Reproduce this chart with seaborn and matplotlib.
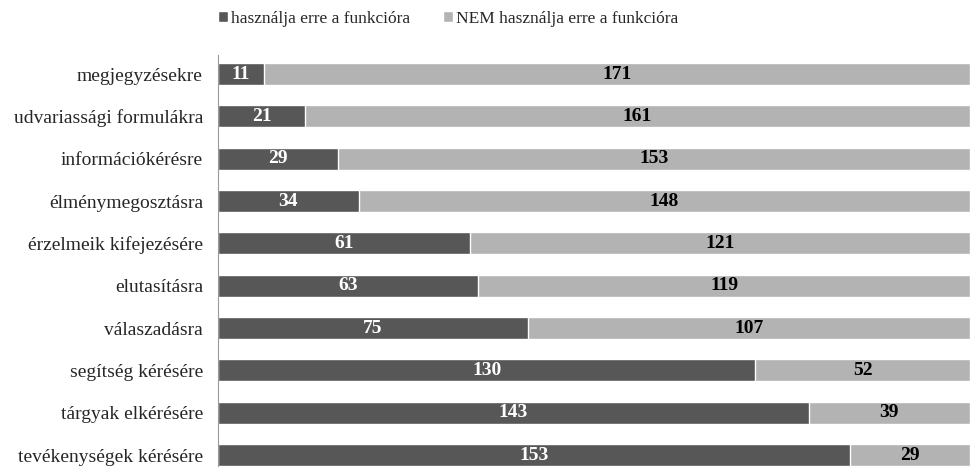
import seaborn as sns
import pandas as pd
import matplotlib.pyplot as plt

categories = ['megjegyzésekre', 'udvariassági formulákra', 'információkérésre',
              'élménymegosztásra', 'érzelmeik kifejezésére', 'elutasításra',
              'válaszadásra', 'segítség kérésére', 'tárgyak elkérésére',
              'tevékenységek kérésére']
uses = [11, 21, 29, 34, 61, 63, 75, 130, 143, 153]
not_uses = [171, 161, 153, 148, 121, 119, 107, 52, 39, 29]

df = pd.DataFrame({'cat': categories, 'uses': uses, 'not_uses': not_uses})
df['total'] = df['uses'] + df['not_uses']

sns.set_style('white')
plt.rcParams['font.family'] = ['Liberation Serif', 'DejaVu Serif']

fig = plt.figure(figsize=(9.74, 4.67), dpi=100)
ax = fig.add_axes([0.224, 0.0, 0.774, 0.882])

dark = '#575757'
light = '#b3b3b3'

sns.barplot(data=df, y='cat', x='total', color=light, orient='h', width=0.52,
            ax=ax, label='NEM használja erre a funkcióra', saturation=1)
sns.barplot(data=df, y='cat', x='uses', color=dark, orient='h', width=0.52,
            ax=ax, label='használja erre a funkcióra', saturation=1)

light_bars = ax.containers[0]
dark_bars = ax.containers[1]
for rect, v in zip(light_bars, not_uses):
    ax.text(rect.get_width() - v / 2, rect.get_y() + rect.get_height() / 2, str(v),
            ha='center', va='center', color='black', fontweight='bold', fontsize=14)
ax.bar_label(dark_bars, labels=[str(v) for v in uses], label_type='center',
             color='white', fontweight='bold', fontsize=14)

handles, labels = ax.get_legend_handles_labels()
ax.get_legend().remove()

ax.set_xlim(0, 182.5)
ax.set_ylim(9.28, -0.45)
ax.set_xlabel('')
ax.set_ylabel('')
ax.set_xticks([])
ax.tick_params(axis='y', length=0, labelsize=14, pad=11)
for s in ['top', 'right', 'bottom']:
    ax.spines[s].set_visible(False)
ax.spines['left'].set_color('#999999')

fig.legend(handles[::-1], labels[::-1], loc='upper center', bbox_to_anchor=(0.46, 1.01),
           ncol=2, frameon=False, fontsize=12.5, handlelength=0.6, handleheight=0.6,
           handletextpad=0.15, columnspacing=1.9)

fig.savefig('out.png', dpi=100)
